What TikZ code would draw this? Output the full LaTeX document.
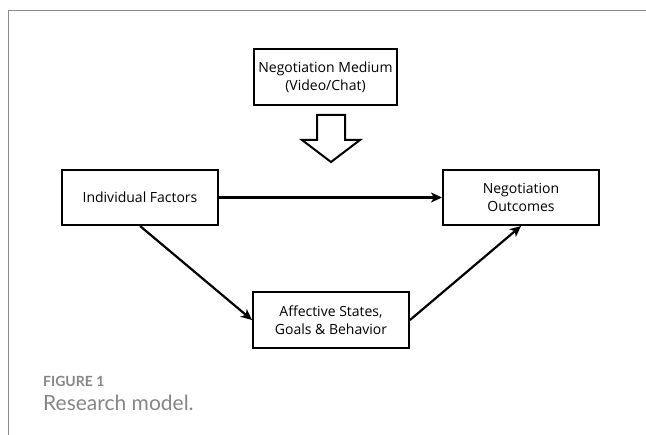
\documentclass[tikz,border=0pt]{standalone}
\usepackage{fontspec}
\setmainfont{Open Sans}
\newfontfamily\capfont{Lato}
\usetikzlibrary{arrows.meta}
\begin{document}
\begin{tikzpicture}[x=1pt,y=-1pt,
  box/.style={draw,line width=2pt,minimum width=#1,align=center,inner sep=0pt,font=\fontsize{14}{18}\selectfont},
  conn/.style={line width=2.2pt,-{Stealth[length=11pt,width=10pt,inset=3pt]}}]
\useasboundingbox (0,0) rectangle (646,435);
\draw[gray!90,line width=1pt] (8,435) -- (8,11) -- (646,11);
\node[box=143pt,minimum height=56pt] (med) at (325.5,77) {Negotiation Medium\\(Video/Chat)};
\node[box=156pt,minimum height=55pt] (ind) at (140,197.5) {Individual Factors};
\node[box=156pt,minimum height=55pt] (out) at (521,197.5) {Negotiation\\Outcomes};
\node[box=156pt,minimum height=56pt] (aff) at (331,320) {Affective States,\\Goals \& Behavior};
\draw[line width=2pt,line join=miter] (317,115) -- (345,115) -- (345,140) -- (360,140) -- (331,162) -- (302,140) -- (317,140) -- cycle;
\draw[conn] (ind.east) -- (out.west);
\draw[conn] (ind.south) -- (aff.west);
\draw[conn] (aff.east) -- (out.south);
\node[anchor=base west,inner sep=0pt,text=gray!95,font=\capfont\bfseries\fontsize{14}{15}\selectfont] (fig) at (43,387) {FIGURE 1};
\node[anchor=base west,inner sep=0pt,text=gray!95,font=\capfont\fontsize{21}{24}\selectfont] (cap) at (43,411) {Research model.};
\end{tikzpicture}
\end{document}
